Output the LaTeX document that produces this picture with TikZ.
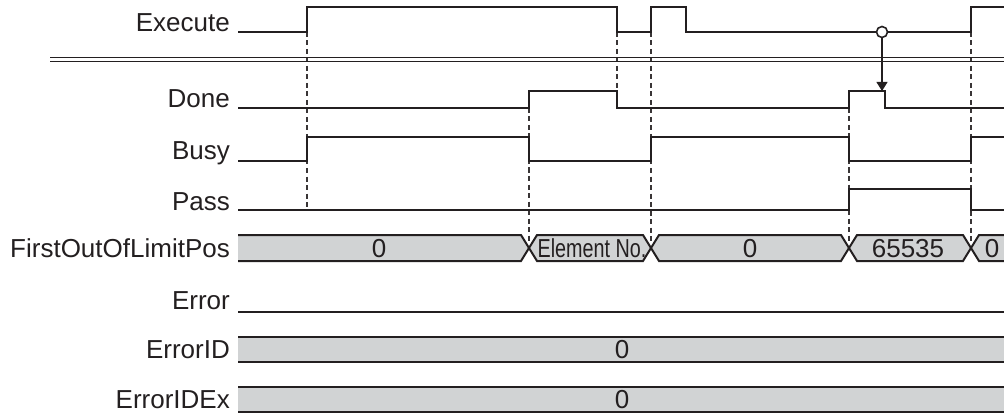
\documentclass[tikz,border=0pt]{standalone}
\usepackage{fontspec}
\setmainfont{Liberation Sans}
\usetikzlibrary{arrows.meta}
\definecolor{ink}{HTML}{231F20}
\definecolor{busgray}{HTML}{D1D3D4}
\begin{document}
\begin{tikzpicture}[x=1pt,y=-1pt,
  sig/.style={draw=ink, line width=2pt, line join=miter},
  guide/.style={draw=ink!90, line width=1.1pt, dash pattern=on 5pt off 3.5pt},
  lbl/.style={anchor=base east, inner sep=0pt, text=ink, font=\fontsize{26}{30}\selectfont},
  val/.style={anchor=center, inner sep=0pt, text=ink, font=\fontsize{26}{30}\selectfont},
  busfill/.style={fill=busgray},
  busedge/.style={draw=ink, line width=2pt, line join=miter},
  sep/.style={draw=ink, line width=1.4pt}]
\useasboundingbox (0,0) rectangle (1004,417);

% labels
\node[lbl] (lExecute) at (230,32) {Execute};
\node[lbl] (lDone) at (230,108) {Done};
\node[lbl] (lBusy) at (230,160) {Busy};
\node[lbl] (lPass) at (230,210) {Pass};
\node[lbl] (lFirst) at (230,257) {FirstOutOfLimitPos};
\node[lbl] (lError) at (230,309) {Error};
\node[lbl] (lErrorID) at (230,358) {ErrorID};
\node[lbl] (lErrorIDEx) at (230,408) {ErrorIDEx};

% guide lines
\draw[guide] (307,32) -- (307,210);
\draw[guide] (529,108) -- (529,242);
\draw[guide] (617,32) -- (617,108);
\draw[guide] (651,32) -- (651,242);
\draw[guide] (849,108) -- (849,242);
\draw[guide] (971,32) -- (971,242);

% separator
\draw[sep] (50,57.3) -- (1004,57.3);
\draw[sep] (50,61.8) -- (1004,61.8);

% signals
\draw[sig] (238,32) -- (307,32) -- (307,7) -- (617,7) -- (617,32) -- (651,32) -- (651,7) -- (686,7) -- (686,32) -- (971,32) -- (971,7) -- (1004,7);
\draw[sig] (238,108) -- (529,108) -- (529,91) -- (617,91) -- (617,108) -- (849,108) -- (849,91) -- (885,91) -- (885,108) -- (1004,108);
\draw[sig] (238,161) -- (307,161) -- (307,137) -- (529,137) -- (529,161) -- (651,161) -- (651,137) -- (849,137) -- (849,161) -- (971,161) -- (971,137) -- (1004,137);
\draw[sig] (238,210) -- (849,210) -- (849,189) -- (971,189) -- (971,210) -- (1004,210);
\draw[sig] (238,312) -- (1004,312);

% FirstOutOfLimitPos bus
\fill[busfill] (238,235) -- (521,235) -- (529,248) -- (521,261) -- (238,261) -- cycle;
\draw[busedge] (238,235) -- (521,235) -- (529,248) -- (521,261) -- (238,261);
\foreach \a/\b in {529/651, 651/849, 849/971}{
  \filldraw[busfill, busedge] (\a+8,235) -- (\b-8,235) -- (\b,248) -- (\b-8,261) -- (\a+8,261) -- (\a,248) -- cycle;
}
\fill[busfill] (979,235) -- (1004,235) -- (1004,261) -- (979,261) -- (971,248) -- cycle;
\draw[busedge] (1004,235) -- (979,235) -- (971,248) -- (979,261) -- (1004,261);
\node[val] (v1) at (379,248.5) {0};
\node[val] (v2) at (592,248.5) {\scalebox{0.76}[1]{Element No.}};
\node[val] (v3) at (750,248.5) {0};
\node[val] (v4) at (908,248.5) {65535};
\node[val] (v5) at (992,248.5) {0};

% ErrorID buses
\fill[busfill] (238,337) rectangle (1004,362);
\draw[busedge] (238,337) -- (1004,337) (238,362) -- (1004,362);
\node[val] (v6) at (622,349.5) {0};
\fill[busfill] (238,387) rectangle (1004,412);
\draw[busedge] (238,387) -- (1004,387) (238,412) -- (1004,412);
\node[val] (v7) at (622,399.5) {0};

% trigger arrow
\node[circle, draw=ink, fill=white, line width=1.6pt, minimum size=11pt, inner sep=0pt] (trig) at (882,32) {};
\coordinate (doneHit) at (882,91);
\draw[draw=ink, line width=1.1pt, -{Triangle[length=9pt,width=11pt]}] (trig) -- (doneHit);
\end{tikzpicture}
\end{document}
